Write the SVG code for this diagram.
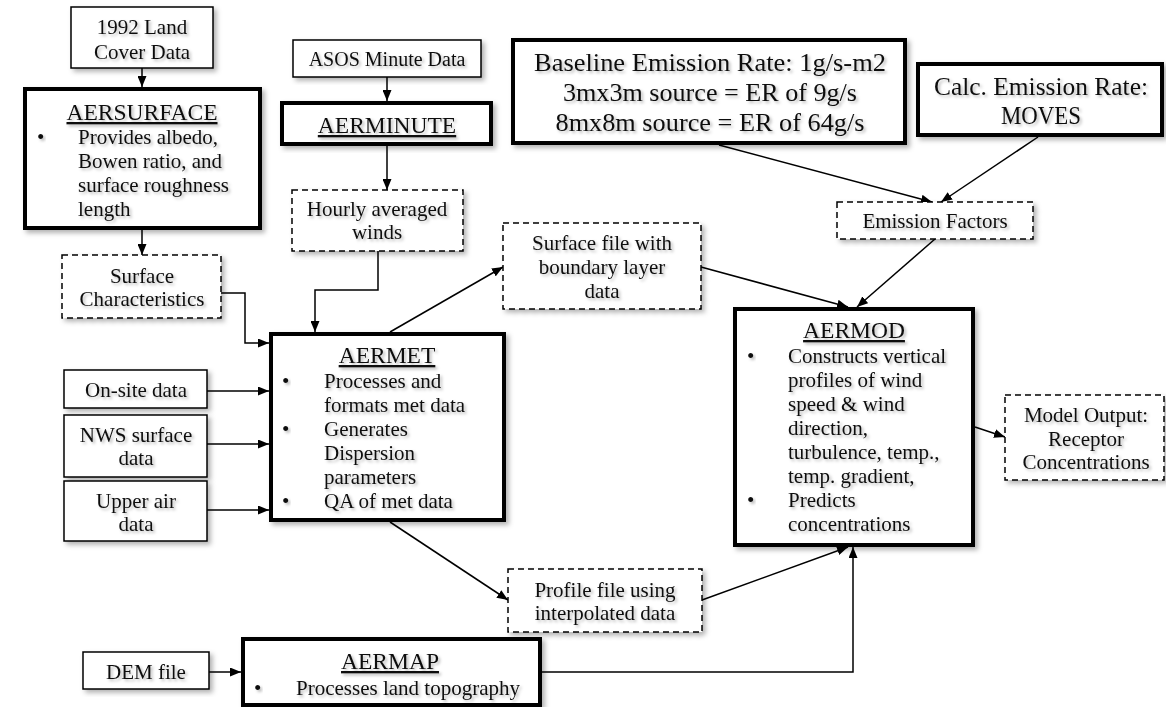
<svg xmlns="http://www.w3.org/2000/svg" width="1166" height="707" viewBox="0 0 1166 707">
<defs>
<filter id="bs" x="-10%" y="-10%" width="130%" height="130%"><feDropShadow dx="3" dy="3" stdDeviation="2.5" flood-color="#000" flood-opacity="0.3"/></filter>
<filter id="ts" x="-5%" y="-20%" width="115%" height="150%"><feDropShadow dx="2" dy="2" stdDeviation="1.6" flood-color="#000" flood-opacity="0.28"/></filter>
<marker id="ah" markerWidth="11" markerHeight="9" refX="11" refY="4.5" orient="auto" markerUnits="userSpaceOnUse"><path d="M0,0 L11,4.5 L0,9 z" fill="#000"/></marker>
</defs>
<style>
text{font-family:"Liberation Serif","DejaVu Serif",serif;fill:#111;filter:url(#ts)}
.c{text-anchor:middle}
.t{font-size:21px}
.s{font-size:20px}
.h{font-size:23.5px;text-decoration:underline}
.b{font-size:26px}
.thick{fill:#fff;stroke:#000;stroke-width:4;filter:url(#bs)}
.thin{fill:#fff;stroke:#000;stroke-width:1.5;filter:url(#bs)}
.dash{fill:#fff;stroke:#000;stroke-width:1.5;stroke-dasharray:6 4;filter:url(#bs)}
.con{fill:none;stroke:#000;stroke-width:1.5;marker-end:url(#ah)}
</style>
<rect width="1166" height="707" fill="#fff"/>

<g id="connectors">
<path class="con" d="M142,68 L142,87"/>
<path class="con" d="M142,230 L142,255"/>
<path class="con" d="M221,293 L245,293 L245,343 L269,343"/>
<path class="con" d="M387,77 L387,101"/>
<path class="con" d="M387,146 L387,190"/>
<path class="con" d="M378,251 L378,290 L315,290 L315,332"/>
<path class="con" d="M207,391 L269,391"/>
<path class="con" d="M207,444 L269,444"/>
<path class="con" d="M207,510 L269,510"/>
<path class="con" d="M390,332 L503,267"/>
<path class="con" d="M390,522 L508,600"/>
<path class="con" d="M701,267 L848,307"/>
<path class="con" d="M935,239 L857,307"/>
<path class="con" d="M719,145 L932,202"/>
<path class="con" d="M1038,137 L941,202"/>
<path class="con" d="M702,600 L848,547"/>
<path class="con" d="M542,672 L853,672 L853,547"/>
<path class="con" d="M209,672 L241,672"/>
<path class="con" d="M975,427 L1005,437"/>
</g>

<g id="land-cover">
<rect class="thin" x="71" y="7" width="142" height="61"/>
<text class="t c" x="142" y="34">1992 Land</text>
<text class="t c" x="142" y="59">Cover Data</text>
</g>

<g id="aersurface">
<rect class="thick" x="25" y="89" width="235" height="139"/>
<text class="h c" x="142" y="120">AERSURFACE</text>
<text class="t" x="37" y="144">•</text>
<text class="t" x="78" y="144">Provides albedo,</text>
<text class="t" x="78" y="168">Bowen ratio, and</text>
<text class="t" x="78" y="192">surface roughness</text>
<text class="t" x="78" y="216">length</text>
</g>

<g id="surface-characteristics">
<rect class="dash" x="62" y="255" width="159" height="63"/>
<text class="t c" x="142" y="283">Surface</text>
<text class="t c" x="142" y="306">Characteristics</text>
</g>

<g id="asos">
<rect class="thin" x="293" y="40" width="188" height="37"/>
<text class="s c" x="387" y="66">ASOS Minute Data</text>
</g>

<g id="aerminute">
<rect class="thick" x="282" y="103" width="209" height="41"/>
<text class="h c" x="387" y="133">AERMINUTE</text>
</g>

<g id="hourly-winds">
<rect class="dash" x="292" y="190" width="171" height="61"/>
<text class="t c" x="377" y="216">Hourly averaged</text>
<text class="t c" x="377" y="239">winds</text>
</g>

<g id="baseline-emission">
<rect class="thick" x="513" y="40" width="392" height="103"/>
<text class="b c" x="710" y="71" textLength="352" lengthAdjust="spacingAndGlyphs">Baseline Emission Rate: 1g/s-m2</text>
<text class="b c" x="710" y="101" textLength="294" lengthAdjust="spacingAndGlyphs">3mx3m source = ER of 9g/s</text>
<text class="b c" x="710" y="131" textLength="309" lengthAdjust="spacingAndGlyphs">8mx8m source = ER of 64g/s</text>
</g>

<g id="calc-emission">
<rect class="thick" x="918" y="64" width="244" height="71"/>
<text class="b c" x="1041" y="95" textLength="214" lengthAdjust="spacingAndGlyphs">Calc. Emission Rate:</text>
<text class="b c" x="1041" y="124" textLength="80" lengthAdjust="spacingAndGlyphs">MOVES</text>
</g>

<g id="emission-factors">
<rect class="dash" x="837" y="202" width="196" height="37"/>
<text class="t c" x="935" y="228">Emission Factors</text>
</g>

<g id="surface-file">
<rect class="dash" x="503" y="223" width="198" height="86"/>
<text class="t c" x="602" y="250">Surface file with</text>
<text class="t c" x="602" y="274">boundary layer</text>
<text class="t c" x="602" y="298">data</text>
</g>

<g id="onsite">
<rect class="thin" x="64" y="370" width="143" height="38"/>
<text class="t c" x="136" y="397">On-site data</text>
</g>

<g id="nws">
<rect class="thin" x="64" y="415" width="143" height="62"/>
<text class="t c" x="136" y="442">NWS surface</text>
<text class="t c" x="136" y="465">data</text>
</g>

<g id="upper-air">
<rect class="thin" x="64" y="481" width="143" height="60"/>
<text class="t c" x="136" y="508">Upper air</text>
<text class="t c" x="136" y="531">data</text>
</g>

<g id="aermet">
<rect class="thick" x="271" y="334" width="233" height="186"/>
<text class="h c" x="387" y="363">AERMET</text>
<text class="t" x="282" y="388">•</text>
<text class="t" x="324" y="388">Processes and</text>
<text class="t" x="324" y="412">formats met data</text>
<text class="t" x="282" y="436">•</text>
<text class="t" x="324" y="436">Generates</text>
<text class="t" x="324" y="460">Dispersion</text>
<text class="t" x="324" y="484">parameters</text>
<text class="t" x="282" y="508">•</text>
<text class="t" x="324" y="508">QA of met data</text>
</g>

<g id="aermod">
<rect class="thick" x="735" y="309" width="238" height="236"/>
<text class="h c" x="854" y="338">AERMOD</text>
<text class="t" x="747" y="363">•</text>
<text class="t" x="788" y="363">Constructs vertical</text>
<text class="t" x="788" y="387">profiles of wind</text>
<text class="t" x="788" y="411">speed &amp; wind</text>
<text class="t" x="788" y="435">direction,</text>
<text class="t" x="788" y="459">turbulence, temp.,</text>
<text class="t" x="788" y="483">temp. gradient,</text>
<text class="t" x="747" y="507">•</text>
<text class="t" x="788" y="507">Predicts</text>
<text class="t" x="788" y="531">concentrations</text>
</g>

<g id="model-output">
<rect class="dash" x="1005" y="395" width="159" height="85"/>
<text class="t c" x="1086" y="422">Model Output:</text>
<text class="t c" x="1086" y="446">Receptor</text>
<text class="t c" x="1086" y="469">Concentrations</text>
</g>

<g id="profile-file">
<rect class="dash" x="508" y="569" width="194" height="63"/>
<text class="t c" x="605" y="597">Profile file using</text>
<text class="t c" x="605" y="620">interpolated data</text>
</g>

<g id="dem">
<rect class="thin" x="83" y="652" width="126" height="37"/>
<text class="t c" x="146" y="679">DEM file</text>
</g>

<g id="aermap">
<rect class="thick" x="243" y="639" width="297" height="66"/>
<text class="h c" x="390" y="669">AERMAP</text>
<text class="t" x="254" y="695">•</text>
<text class="t" x="296" y="695">Processes land topography</text>
</g>
</svg>
